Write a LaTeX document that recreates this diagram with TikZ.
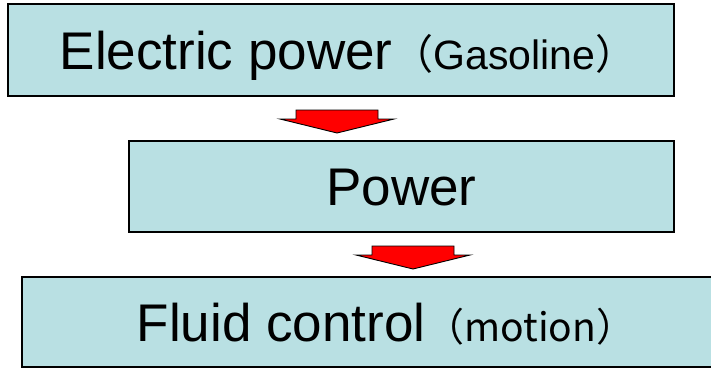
\documentclass[tikz,border=0pt]{standalone}
\usepackage{fontspec}
\setmainfont{Liberation Sans}
\newfontfamily\cjk{Noto Sans CJK JP}
\usetikzlibrary{calc}
\definecolor{boxblue}{RGB}{185,224,227}
\tikzset{
  stage/.style={draw=black,line width=1.6pt,fill=boxblue,inner sep=0pt,
    text height=38pt,text depth=0pt,font=\fontsize{53}{60}\selectfont},
  downarrow/.pic={\filldraw[fill=red,draw=black,line width=0.9pt]
    (-41,0) -- (41,0) -- (41,9) -- (57,9) -- (0,23) -- (-57,9) -- (-41,9) -- cycle;}
}
\newcommand{\sidenote}[1]{{\fontsize{39}{48}\selectfont\cjk（#1）}}

\begin{document}
\begin{tikzpicture}[x=1pt,y=-1pt]
  \useasboundingbox (0,0) rectangle (711,368);
  \clip (0,0) rectangle (711,368);
  \node[stage,minimum width=666pt,minimum height=92pt] (elec) at (341,50)
    {\hspace*{14pt}Electric power{\fontsize{41}{48}\selectfont\cjk（\rmfamily Gasoline\cjk）}};
  \node[stage,minimum width=545pt,minimum height=91pt] (power) at (401.5,186.5) {Power};
  \node[stage,minimum width=718pt,minimum height=90pt] (fluid) at (381,322)
    {\hspace*{10pt}Fluid control\sidenote{motion}};
  % arrows between the stages
  \pic at (337,110) {downarrow};
  \pic at (413,246) {downarrow};
\end{tikzpicture}
\end{document}
